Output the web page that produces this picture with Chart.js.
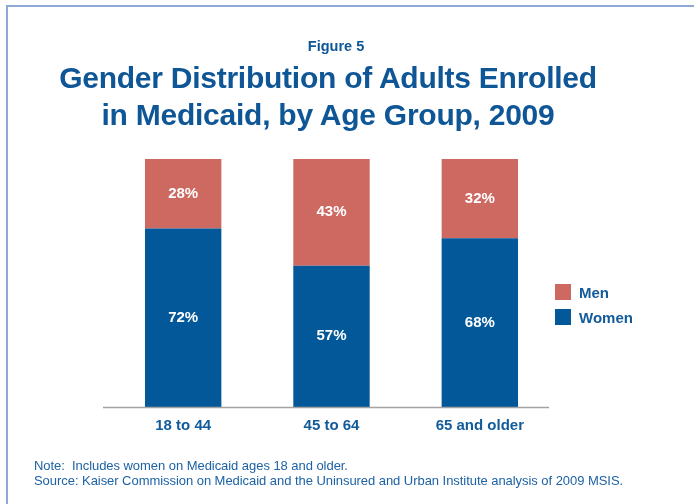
<!DOCTYPE html>
<html lang="en">
<head>
  <meta charset="UTF-8">
  <title>Gender Distribution of Adults Enrolled in Medicaid</title>
  <script src="https://cdn.jsdelivr.net/npm/chart.js"></script>
  <style>
    body { margin: 0; background: #fff; font-family: 'Liberation Sans', Arial, sans-serif; }
    .page { position: relative; width: 694px; height: 504px; overflow: hidden; }
    .frame {
      position: absolute; left: 6px; top: 5px; width: 720px; height: 540px;
      border-top: 2px solid #8ea8d4; border-left: 2px solid #8ea8d4;
    }
    #chart { position: absolute; left: 0; top: 0; }
    .fig { position: absolute; top: 38px; left: 0; width: 672px; text-align: center;
      font-weight: bold; font-size: 14.5px; color: #0e5696; }
    .title { position: absolute; top: 59px; left: 0; width: 656px; text-align: center;
      font-weight: bold; font-size: 30px; line-height: 37px; color: #0e5696; letter-spacing: -0.25px; }
    .legend { position: absolute; left: 555px; top: 284px; color: #125b9b;
      font-weight: bold; font-size: 15px; }
    .legend div { display: flex; align-items: center; height: 16px; margin-bottom: 9px; }
    .legend span.box { width: 16px; height: 16px; margin-right: 8px; }
    .notes { position: absolute; left: 34px; top: 458px; font-size: 13px; line-height: 15px; color: #1d62a5; letter-spacing: -0.05px; }
  </style>
</head>
<body>
<div class="page">
  <div class="frame"></div>
  <canvas id="chart" width="694" height="504"></canvas>
  <div class="fig">Figure 5</div>
  <div class="title">Gender Distribution of Adults Enrolled<br>in Medicaid, by Age Group, 2009</div>
  <div class="legend" id="legend"></div>
  <div class="notes">Note:&nbsp; Includes women on Medicaid ages 18 and older.<br>Source: Kaiser Commission on Medicaid and the Uninsured and Urban Institute analysis of 2009 MSIS.</div>
</div>

<script>
  // age groups and percent shares
  const ageGroups = ["18 to 44", "45 to 64", "65 and older"];
  const women = [72, 57, 68];
  const men = [28, 43, 32];

  const womenColor = "#03589a";
  const menColor = "#cd6961";

  // white % labels in the middle of each segment
  const segmentLabels = {
    id: "segmentLabels",
    afterDatasetsDraw(chart) {
      const ctx = chart.ctx;
      ctx.save();
      ctx.fillStyle = "#fff";
      ctx.font = "bold 15px 'Liberation Sans', Arial, sans-serif";
      ctx.textAlign = "center";
      ctx.textBaseline = "middle";
      chart.data.datasets.forEach((ds, i) => {
        chart.getDatasetMeta(i).data.forEach((bar, j) => {
          const mid = (bar.y + bar.base) / 2;
          ctx.fillText(ds.data[j] + "%", bar.x, mid);
        });
      });
      ctx.restore();
    }
  };

  // gray baseline under the bars
  const baseLine = {
    id: "baseLine",
    afterDatasetsDraw(chart) {
      const { ctx, chartArea } = chart;
      const y = chart.scales.y.getPixelForValue(0) + 0.5;
      ctx.save();
      ctx.strokeStyle = "#a3a3a3";
      ctx.lineWidth = 1.5;
      ctx.beginPath();
      ctx.moveTo(chartArea.left - 6, y);
      ctx.lineTo(chartArea.right - 5, y);
      ctx.stroke();
      ctx.restore();
    }
  };

  const chart = new Chart(document.getElementById("chart"), {
    type: "bar",
    data: {
      labels: ageGroups,
      datasets: [
        { label: "Women", data: women, backgroundColor: womenColor },
        { label: "Men", data: men, backgroundColor: menColor }
      ]
    },
    options: {
      responsive: false,
      animation: false,
      layout: { padding: { left: 109, right: 140, top: 159, bottom: 67 } },
      datasets: { bar: { barPercentage: 1, categoryPercentage: 0.515 } },
      plugins: { legend: { display: false }, tooltip: { enabled: false } },
      scales: {
        x: {
          stacked: true,
          grid: { display: false },
          border: { display: false },
          ticks: {
            color: "#125b9b",
            padding: 2,
            font: { family: "'Liberation Sans', Arial, sans-serif", size: 15, weight: "bold" }
          }
        },
        y: { stacked: true, display: false, min: 0, max: 100 }
      }
    },
    plugins: [segmentLabels, baseLine]
  });

  // legend, Men listed above Women
  const legend = document.getElementById("legend");
  [...chart.data.datasets].reverse().forEach(ds => {
    const row = document.createElement("div");
    row.innerHTML = '<span class="box" style="background:' + ds.backgroundColor + '"></span>' + ds.label;
    legend.appendChild(row);
  });
</script>
</body>
</html>
